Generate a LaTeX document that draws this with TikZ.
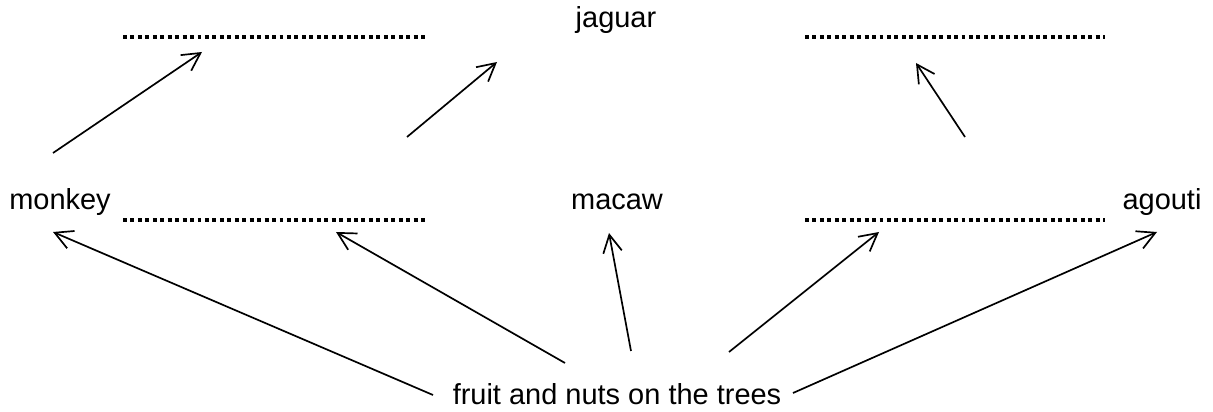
\documentclass[tikz,border=0pt]{standalone}
\usepackage{fontspec}
\setmainfont{Liberation Sans}
\usetikzlibrary{arrows.meta}
\begin{document}
\begin{tikzpicture}[x=0.025cm,y=0.025cm]
		\tikzstyle{every node}+=[inner sep=0pt,anchor=base,font=\fontsize{20.6}{24}\selectfont]
		\tikzstyle{blank}=[line width=2.8pt,dash pattern=on 2.8pt off 2.5pt]
		\tikzstyle{link}=[line width=1.2pt,-{Straight Barb[length=0.44cm,width=0.47cm]}]
		\useasboundingbox (0,0) rectangle (1213,-412);
		% names
		\node (jaguar) at (616,-28) {jaguar};
		\node (monkey) at (60,-210) {monkey};
		\node (macaw) at (617,-210) {macaw};
		\node (agouti) at (1162,-210) {agouti};
		\node (fruit) at (617,-405) {fruit and nuts on the trees};
		% blanks to fill in
		\coordinate (bl1) at (123,-37);
		\coordinate (bl2) at (425,-37);
		\coordinate (br1) at (805,-37);
		\coordinate (br2) at (1105,-37);
		\coordinate (cl1) at (123,-220);
		\coordinate (cl2) at (425,-220);
		\coordinate (cr1) at (805,-220);
		\coordinate (cr2) at (1105,-220);
		\draw [blank] (bl1) -- (bl2);
		\draw [blank] (br1) -- (br2);
		\draw [blank] (cl1) -- (cl2);
		\draw [blank] (cr1) -- (cr2);
		% arrow ends
		\coordinate (monkeyup) at (53,-153);
		\coordinate (blanktl) at (202,-52);
		\coordinate (midup) at (407,-137);
		\coordinate (jaguarin) at (497,-62);
		\coordinate (agoutiup) at (965,-137);
		\coordinate (blanktr) at (916,-63);
		\coordinate (fruit1) at (433,-395);
		\coordinate (monkeyin) at (53,-232);
		\coordinate (fruit2) at (565,-363);
		\coordinate (blankbl) at (336,-232);
		\coordinate (fruit3) at (631,-351);
		\coordinate (macawin) at (609,-233);
		\coordinate (fruit4) at (729,-352);
		\coordinate (blankbr) at (879,-232);
		\coordinate (fruit5) at (793,-393);
		\coordinate (agoutiin) at (1157,-232);
		% food chain
		\draw [link] (monkeyup) -- (blanktl);
		\draw [link] (midup) -- (jaguarin);
		\draw [link] (agoutiup) -- (blanktr);
		\draw [link] (fruit1) -- (monkeyin);
		\draw [link] (fruit2) -- (blankbl);
		\draw [link] (fruit3) -- (macawin);
		\draw [link] (fruit4) -- (blankbr);
		\draw [link] (fruit5) -- (agoutiin);
\end{tikzpicture}
\end{document}
